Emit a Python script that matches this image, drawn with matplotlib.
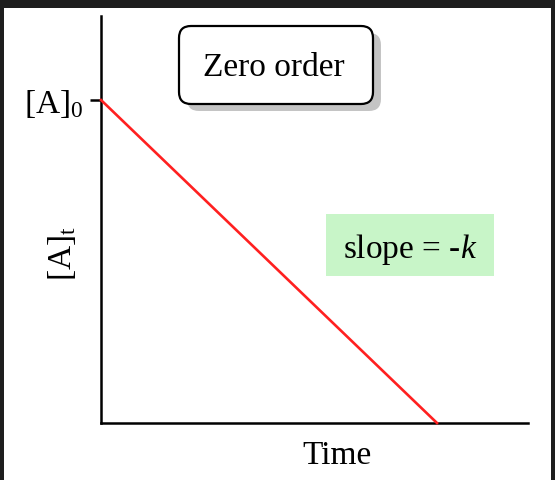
import matplotlib
matplotlib.use('Agg')
import matplotlib.pyplot as plt
from matplotlib.patches import FancyBboxPatch, Rectangle
from matplotlib.transforms import IdentityTransform

# data: straight line for a zero order reaction
time = [0.0, 1.0]
conc = [1.0, 0.0]
a0_tick = [1.0]
a0_label = ['[A]$_0$']
title_text = 'Zero order'
slope_text = 'slope = -$k$'

plt.rcParams['font.family'] = ['Liberation Serif', 'DejaVu Serif']
plt.rcParams['mathtext.fontset'] = 'custom'
plt.rcParams['mathtext.rm'] = 'Liberation Serif'
plt.rcParams['mathtext.it'] = 'Liberation Serif:italic'

W, H = 555, 481
fig = plt.figure(figsize=(W / 100, H / 100), dpi=100)
fig.patch.set_facecolor('white')

# axes placed in pixels (top-down)
ax_left, ax_right, ax_top, ax_bottom = 101, 528, 17, 424
ax = fig.add_axes([ax_left / W, 1 - ax_bottom / H,
                   (ax_right - ax_left) / W, (ax_bottom - ax_top) / H])

ax.plot(time, conc, color='#ff2020', lw=1.9, clip_on=False, zorder=3)
ax.set_xlim(0, 427 / 336)
ax.set_ylim(0, 407 / 323)

for side in ['top', 'right']:
    ax.spines[side].set_visible(False)
for side in ['left', 'bottom']:
    ax.spines[side].set_linewidth(1.8)
ax.set_xticks([])
ax.set_yticks(a0_tick)
ax.set_yticklabels(a0_label, fontsize=24)
ax.tick_params(axis='y', length=8, width=1.8, pad=5)

ax.set_xlabel('Time', fontsize=24)
ax.xaxis.set_label_coords(0.553, -0.04)
ax.set_ylabel('[A]$_\\mathrm{t}$', fontsize=24)
ax.yaxis.set_label_coords(-0.054, 0.42)

px = IdentityTransform()

# "Zero order" box with drop shadow
bx, by, bw, bh = 179, H - 105, 194, 78
shadow = FancyBboxPatch((bx + 8, by - 7), bw, bh,
                        boxstyle='round,pad=0,rounding_size=12',
                        transform=px, facecolor='#c4c4c4', edgecolor='none')
box = FancyBboxPatch((bx, by), bw, bh,
                     boxstyle='round,pad=0,rounding_size=12',
                     transform=px, facecolor='white', edgecolor='black', lw=1.6)
fig.patches.extend([shadow, box])
fig.text(274 / W, 1 - 76 / H, title_text, fontsize=24, ha='center', va='baseline')

# green slope label
green = Rectangle((326, H - 277), 168, 62, transform=px,
                  facecolor='#c8f5c8', edgecolor='none')
fig.patches.append(green)
fig.text(410 / W, 1 - 258 / H, slope_text, fontsize=24, ha='center', va='baseline')

# dark frame around the screenshot
frame = '#1e1e1e'
fig.patches.extend([
    Rectangle((0, H - 9), W, 9, transform=px, facecolor=frame, edgecolor='none'),
    Rectangle((0, 0), 4, H, transform=px, facecolor=frame, edgecolor='none'),
    Rectangle((W - 4, 0), 4, H, transform=px, facecolor=frame, edgecolor='none'),
])

fig.savefig('out.png', dpi=100)
